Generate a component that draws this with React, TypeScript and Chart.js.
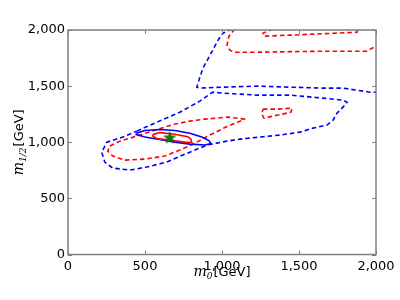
import React, { useEffect, useRef } from "react";
import { Chart, registerables } from "chart.js";

Chart.register(...registerables);

// Axis ticks
const xTicks = [0, 500, 1000, 1500, 2000];
const yTicks = [0, 500, 1000, 1500, 2000];

// Best-fit point
const bestFit = [{ x: 661, y: 1043 }];

// Blue dashed contour: lower band (closed)
const blueBandM0 = [447, 577, 726, 856, 940, 1006, 1227, 1441, 1656, 1786, 1812, 1786, 1747, 1721, 1682, 1591, 1507, 1377, 1246, 1116, 1032, 902, 746, 641, 511, 401, 291, 239, 219, 252, 356, 447];
const blueBandM12 = [1099, 1179, 1268, 1366, 1446, 1437, 1420, 1420, 1393, 1375, 1357, 1313, 1260, 1197, 1153, 1126, 1090, 1064, 1046, 1028, 1010, 975, 886, 823, 779, 752, 770, 823, 912, 1001, 1046, 1099];

// Blue dashed contour: upper open curve
const blueTopM0 = [1065, 1006, 974, 922, 876, 850, 837, 856, 1006, 1227, 1441, 1656, 1786, 1877, 1961, 2010];
const blueTopM12 = [2010, 1971, 1909, 1775, 1660, 1553, 1491, 1482, 1491, 1500, 1491, 1482, 1482, 1464, 1446, 1446];

// Red dashed contour: upper open curve
const redTopM0 = [1083, 1045, 1032, 1051, 1084, 1227, 1441, 1656, 1877, 1942, 1974, 2010];
const redTopM12 = [2010, 1945, 1865, 1820, 1802, 1802, 1807, 1811, 1811, 1811, 1838, 1856];

// Red dashed contour: thin strip under the top edge
const redStripM0 = [1331, 1266, 1272, 1441, 1656, 1877, 1883];
const redStripM12 = [2010, 1971, 1945, 1954, 1967, 1980, 2010];

// Red dashed contour: small island
const redIslandM0 = [1266, 1363, 1454, 1448, 1363, 1272, 1259, 1266];
const redIslandM12 = [1295, 1295, 1304, 1268, 1242, 1215, 1251, 1295];

// Red dashed contour: main loop
const redLoopM0 = [1150, 1038, 888, 791, 694, 564, 447, 337, 271, 258, 291, 369, 499, 629, 726, 824, 921, 1038, 1150];
const redLoopM12 = [1206, 1224, 1206, 1188, 1162, 1108, 1055, 1010, 966, 921, 877, 841, 850, 877, 930, 992, 1064, 1144, 1206];

// Blue solid contour (closed)
const blueSolidM0 = [443, 499, 596, 694, 791, 869, 915, 928, 889, 791, 694, 596, 499, 447, 443];
const blueSolidM12 = [1081, 1104, 1113, 1104, 1081, 1046, 1015, 988, 975, 983, 1001, 1024, 1046, 1068, 1081];

// Red solid contour (closed)
const redSolidM0 = [551, 596, 694, 778, 798, 804, 759, 661, 577, 551, 551];
const redSolidM12 = [1068, 1086, 1072, 1050, 1028, 997, 1001, 1019, 1032, 1055, 1068];

const pts = (xs: number[], ys: number[]) => xs.map((x, i) => ({ x, y: ys[i] }));

const BLUE = "#0000ff";
const RED = "#ff0000";
const GRAY = "#808080";

function makeStar(): HTMLCanvasElement {
  const c = document.createElement("canvas");
  const s = 14;
  c.width = s;
  c.height = s;
  const ctx = c.getContext("2d")!;
  const cx = s / 2, cy = s / 2 + 0.5, R = 6.2, r = 2.5;
  ctx.beginPath();
  for (let i = 0; i < 10; i++) {
    const rad = i % 2 === 0 ? R : r;
    const a = -Math.PI / 2 + (i * Math.PI) / 5;
    const px = cx + rad * Math.cos(a);
    const py = cy + rad * Math.sin(a);
    if (i === 0) ctx.moveTo(px, py);
    else ctx.lineTo(px, py);
  }
  ctx.closePath();
  ctx.fillStyle = "#008000";
  ctx.fill();
  ctx.strokeStyle = "#005a00";
  ctx.lineWidth = 0.6;
  ctx.stroke();
  return c;
}

const framePlugin = {
  id: "framePlugin",
  afterDraw(chart: any) {
    const { ctx, chartArea: a, scales } = chart;
    const xs = scales.x, ys = scales.y;
    ctx.save();
    ctx.strokeStyle = GRAY;
    ctx.lineWidth = 1.5;
    ctx.strokeRect(a.left, a.top, a.right - a.left, a.bottom - a.top);
    ctx.lineWidth = 1;
    const tl = 4;
    ctx.beginPath();
    xTicks.forEach((v) => {
      const p = Math.round(xs.getPixelForValue(v)) + 0.5;
      ctx.moveTo(p, a.bottom);
      ctx.lineTo(p, a.bottom - tl);
      ctx.moveTo(p, a.top);
      ctx.lineTo(p, a.top + tl);
    });
    yTicks.forEach((v) => {
      const p = Math.round(ys.getPixelForValue(v)) + 0.5;
      ctx.moveTo(a.left, p);
      ctx.lineTo(a.left + tl, p);
      ctx.moveTo(a.right, p);
      ctx.lineTo(a.right - tl, p);
    });
    ctx.stroke();

    // Axis titles (math style)
    ctx.fillStyle = "#000";
    ctx.textBaseline = "alphabetic";
    const mFont = 'italic 14px "DejaVu Serif"';
    const subFont = 'italic 9px "DejaVu Serif"';
    const txtFont = '13px "DejaVu Sans"';

    // X title: m_0[GeV]
    ctx.font = mFont;
    const wm = ctx.measureText("m").width;
    ctx.font = subFont;
    const w0 = ctx.measureText("0").width;
    ctx.font = txtFont;
    const wg = ctx.measureText("[GeV]").width;
    const total = wm + w0 + 1 + wg;
    const cx = (a.left + a.right) / 2;
    let x = cx - total / 2;
    const base = 276;
    ctx.textAlign = "left";
    ctx.font = mFont;
    ctx.fillText("m", x, base);
    x += wm;
    ctx.font = subFont;
    ctx.fillText("0", x, base + 2.5);
    x += w0 + 1;
    ctx.font = txtFont;
    ctx.fillText("[GeV]", x, base);

    // Y title: m_{1/2}[GeV], rotated
    ctx.save();
    const cy = (a.top + a.bottom) / 2;
    ctx.translate(23, cy);
    ctx.rotate(-Math.PI / 2);
    ctx.font = mFont;
    const wm2 = ctx.measureText("m").width;
    ctx.font = subFont;
    const wh = ctx.measureText("1/2").width;
    ctx.font = txtFont;
    const wg2 = ctx.measureText("[GeV]").width;
    const tot2 = wm2 + wh + 1 + wg2;
    let y = -tot2 / 2;
    ctx.font = mFont;
    ctx.fillText("m", y, 0);
    y += wm2;
    ctx.font = subFont;
    ctx.fillText("1/2", y, 2.5);
    y += wh + 1;
    ctx.font = txtFont;
    ctx.fillText("[GeV]", y, 0);
    ctx.restore();

    ctx.restore();
  },
};

export default function App() {
  const ref = useRef<HTMLCanvasElement | null>(null);
  useEffect(() => {
    if (!ref.current) return;
    const star = makeStar();
    const dashed = (data: any[], color: string) => ({
      data,
      showLine: true,
      borderColor: color,
      borderWidth: 1.6,
      borderDash: [4.5, 3],
      pointRadius: 0,
      fill: false,
      tension: 0,
    });
    const solid = (data: any[], color: string) => ({
      data,
      showLine: true,
      borderColor: color,
      borderWidth: 1.6,
      pointRadius: 0,
      fill: false,
      tension: 0,
    });
    const chart = new Chart(ref.current, {
      type: "scatter",
      data: {
        datasets: [
          {
            data: bestFit,
            showLine: false,
            pointStyle: star as any,
            pointRadius: 7,
            backgroundColor: "#008000",
            borderColor: "#008000",
          } as any,
          solid(pts(redSolidM0, redSolidM12), RED),
          solid(pts(blueSolidM0, blueSolidM12), BLUE),
          dashed(pts(redLoopM0, redLoopM12), RED),
          dashed(pts(redIslandM0, redIslandM12), RED),
          dashed(pts(redStripM0, redStripM12), RED),
          dashed(pts(redTopM0, redTopM12), RED),
          dashed(pts(blueTopM0, blueTopM12), BLUE),
          dashed(pts(blueBandM0, blueBandM12), BLUE),
        ],
      },
      options: {
        responsive: false,
        animation: false,
        devicePixelRatio: 1,
        layout: { padding: { left: 0, right: 24, top: 30, bottom: 0 } },
        plugins: { legend: { display: false }, tooltip: { enabled: false } },
        scales: {
          x: {
            type: "linear",
            min: 0,
            max: 2000,
            grid: { display: false, drawTicks: false },
            border: { display: false },
            afterBuildTicks: (s: any) => {
              s.ticks = xTicks.map((v) => ({ value: v }));
            },
            afterFit: (s: any) => {
              s.height = 45.5;
            },
            ticks: {
              padding: 4,
              color: "#000",
              maxRotation: 0,
              font: { family: "DejaVu Sans", size: 13 },
            },
          },
          y: {
            type: "linear",
            min: 0,
            max: 2000,
            grid: { display: false, drawTicks: false },
            border: { display: false },
            afterBuildTicks: (s: any) => {
              s.ticks = yTicks.map((v) => ({ value: v }));
            },
            afterFit: (s: any) => {
              s.width = 68;
            },
            ticks: {
              padding: 3,
              color: "#000",
              font: { family: "DejaVu Sans", size: 13 },
            },
          },
        },
      },
      plugins: [framePlugin],
    } as any);
    return () => chart.destroy();
  }, []);
  return (
    <div style={{ position: "fixed", left: 0, top: 0, width: 400, height: 300, background: "#fff" }}>
      <canvas ref={ref} width={400} height={300} />
    </div>
  );
}
